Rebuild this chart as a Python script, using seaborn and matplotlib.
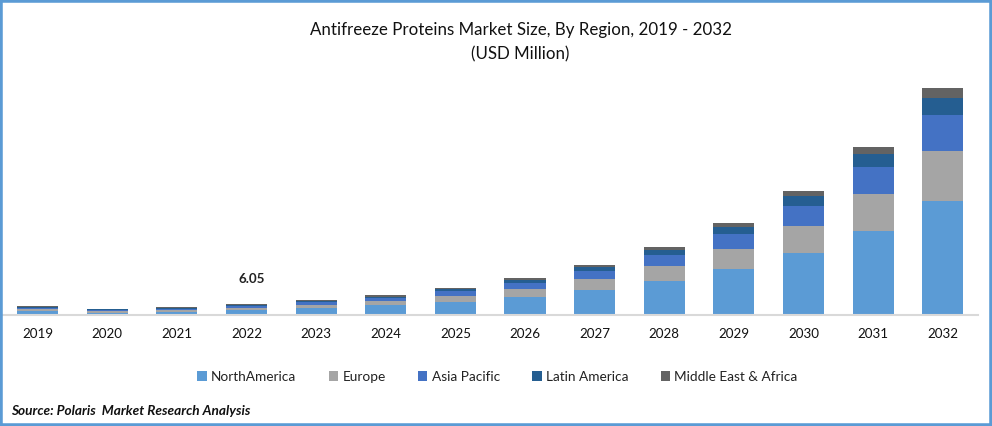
import seaborn as sns
import numpy as np
from matplotlib import pyplot as plt
from matplotlib.patches import Rectangle

years = ['2019', '2020', '2021', '2022', '2023', '2024', '2025', '2026', '2027', '2028', '2029', '2030', '2031', '2032']

# USD million (2022 total is labelled 6.05)
north_america = [2.2, 1.3, 1.65, 2.75, 3.85, 5.5, 7.15, 9.9, 13.75, 18.7, 25.3, 34.1, 46.2, 62.7]
europe = [1.1, 0.95, 1.1, 1.1, 1.65, 2.2, 3.3, 4.4, 6.05, 8.25, 11.0, 14.85, 20.35, 27.5]
asia_pacific = [0.8, 0.55, 0.8, 1.1, 1.8, 1.65, 2.75, 3.3, 4.4, 6.05, 8.25, 11.0, 14.85, 19.8]
latin_america = [0.45, 0.25, 0.45, 0.55, 0.55, 0.8, 1.1, 1.65, 2.2, 2.75, 3.85, 5.5, 7.3, 9.5]
mid_east_africa = [0.4, 0.25, 0.4, 0.55, 0.55, 0.85, 0.55, 1.1, 1.1, 1.65, 2.2, 2.75, 3.7, 5.3]

series = [north_america, europe, asia_pacific, latin_america, mid_east_africa]
names = ['NorthAmerica', 'Europe', 'Asia Pacific', 'Latin America', 'Middle East & Africa']
colors = ['#5b9bd5', '#a5a5a5', '#4472c4', '#255e91', '#636363']

W, H = 992, 426
sns.set_style('white')
plt.rcParams['font.family'] = ['Lato', 'DejaVu Sans']

fig = plt.figure(figsize=(W / 100, H / 100), dpi=100)
# axes in pixels: left 2.7, right 977.7, baseline at y=315, top at y=70
ax = fig.add_axes([2.7 / W, (H - 315) / H, 975 / W, 245 / H])

bottom = np.zeros(len(years))
for vals, name, c in zip(series, names, colors):
    sns.barplot(x=years, y=vals, bottom=bottom, color=c, saturation=1, width=0.59,
                label=name, ax=ax, legend=False, errorbar=None, linewidth=0)
    bottom = bottom + np.array(vals)

ax.set_xlim(-0.5, 13.5)
ax.set_ylim(0, 245 * 0.55)
ax.set_yticks([])
sns.despine(ax=ax, left=True)
ax.spines['bottom'].set_color('#d9d9d9')
ax.spines['bottom'].set_linewidth(1.5)
ax.tick_params(axis='x', length=0, pad=9.5, labelsize=9.6, labelcolor='#111111')

# data label on 2022 only, sits a little right of the bar in the original
ax.text(3.08, bottom[3] + 10.4, '6.05', ha='center', va='bottom', fontsize=9.6, fontweight='bold', color='#222222')

fig.text(521 / W, 1 - 30 / H, 'Antifreeze Proteins Market Size, By Region, 2019 - 2032',
         ha='center', va='center', fontsize=12.2, color='#111111')
fig.text(520 / W, 1 - 54 / H, '(USD Million)', ha='center', va='center', fontsize=12.2, color='#111111')

handles, labels = ax.get_legend_handles_labels()
fig.legend(handles, labels, loc='center', bbox_to_anchor=(497.5 / W, 1 - 377 / H), ncol=5, frameon=False,
           fontsize=9.8, handlelength=0.7, handleheight=0.7, handletextpad=0.3, columnspacing=2.38,
           labelcolor='#222222')

fig.text(11 / W, 1 - 411 / H, 'Source: Polaris  Market Research Analysis', ha='left', va='center',
         fontsize=9.8, fontweight='bold', fontstyle='italic', color='#111111')

# blue frame round the picture
fig.add_artist(Rectangle((0, 0), 1, 1, transform=fig.transFigure, fill=False, edgecolor='#5b9bd5', linewidth=4))

fig.savefig('out.png', dpi=100)
